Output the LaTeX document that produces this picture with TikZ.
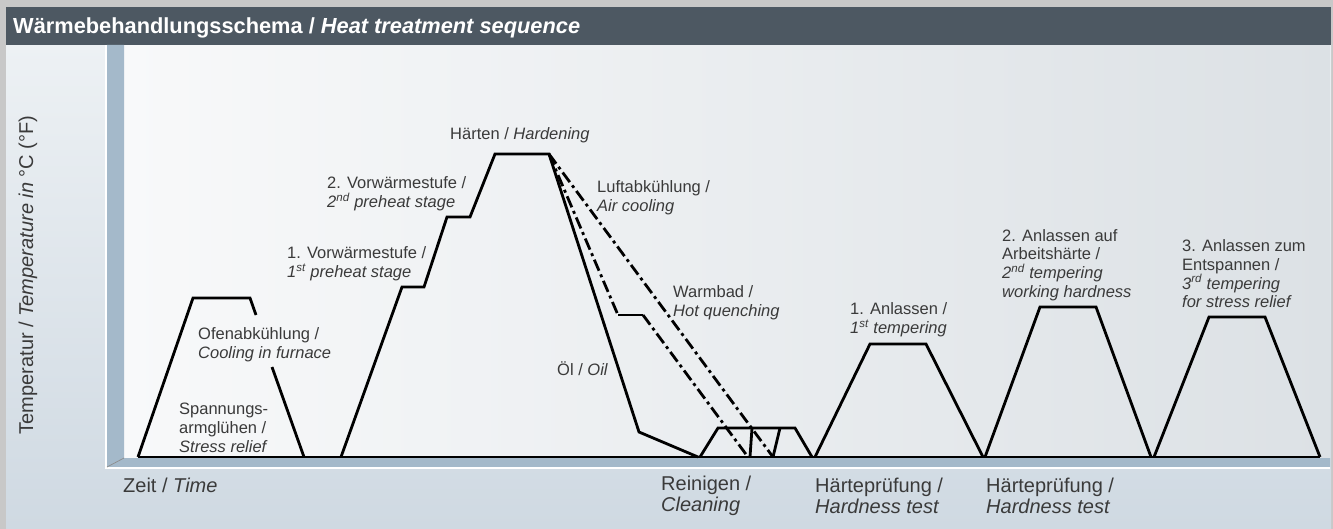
\documentclass[tikz,border=0pt]{standalone}
\usepackage{fontspec}
\setmainfont{Liberation Sans}
\usepackage{tikz}
\usetikzlibrary{positioning}

\definecolor{outergrey}{HTML}{C8C8C8}
\definecolor{headbar}{HTML}{4D5862}
\definecolor{paneltop}{HTML}{EDF1F4}
\definecolor{panelbot}{HTML}{CFD9E2}
\definecolor{wallblue}{HTML}{A4B9CA}
\definecolor{backlight}{HTML}{F8F9FA}
\definecolor{backdark}{HTML}{DCE1E5}
\definecolor{labelgrey}{HTML}{3A3A3A}

\begin{document}
\begin{tikzpicture}[x=1pt,y=-1pt,
    lbl/.style={anchor=west,inner sep=0pt,align=left,text=labelgrey,font=\fontsize{16.5}{18.7}\selectfont},
    axlbl/.style={anchor=west,inner sep=0pt,align=left,text=labelgrey,font=\fontsize{20}{21}\selectfont},
    curve/.style={line width=2.8pt,line join=miter},
    cool/.style={curve,dash pattern=on 12pt off 4pt on 3pt off 4pt}]
    \useasboundingbox (0,0) rectangle (1333,529);
    \fill[outergrey] (0,0) rectangle (1333,529);
    \shade[top color=paneltop,bottom color=panelbot] (6,45) rectangle (1331,529);
    \shade[left color=backlight,right color=backdark] (124,45) rectangle (1330,458);
    \fill[headbar] (6,7) rectangle (1331,45);
    \fill[wallblue] (107,45) -- (124,45) -- (124,458) -- (107,467) -- cycle;
    \fill[wallblue] (124,458) -- (1330,458) -- (1330,467) -- (107,467) -- cycle;
    \draw[white,line width=1.5pt] (106,45) -- (106,468) -- (1330,468);
    \draw[black!45,line width=0.7pt] (124,458) -- (107,467);

    \node[anchor=base west,inner sep=0pt,text=white,font=\bfseries\fontsize{21.8}{24}\selectfont]
        (title) at (13,34) {Wärmebehandlungsschema / \textit{Heat treatment sequence}};
    \node[rotate=90,inner sep=0pt,text=labelgrey,font=\fontsize{20}{21}\selectfont]
        (ylabel) at (28,275) {Temperatur / \textit{Temperature in} °C (°F)};

    \draw[curve] (138,457) -- (1320,457);
    \draw[curve] (138,457) -- (193,298) -- (250,298) -- (256,315);
    \draw[curve] (272,367) -- (304,457);
    \draw[curve] (341,457) -- (402,287) -- (424,287) -- (447,217) -- (470,217)
        -- (495,154) -- (549,154) -- (639,432) -- (698,457);
    \draw[cool] (549,154) -- (618,315);
    \draw[curve] (618,315) -- (643,315);
    \draw[cool] (643,315) -- (748,457);
    \draw[cool] (549,154) -- (773,457);
    \draw[curve] (700,457) -- (718,428) -- (795,428) -- (812,457);
    \draw[curve] (752,428) -- (750,457);
    \draw[curve] (780,428) -- (773,457);
    \draw[curve] (815,457) -- (870,344) -- (926,344) -- (983,457);
    \draw[curve] (985,457) -- (1040,307) -- (1096,307) -- (1151,457);
    \draw[curve] (1154,457) -- (1209,317) -- (1265,317) -- (1320,457);

    \node[lbl] (stress) at (179,428) {Spannungs-\\armglühen /\\\textit{Stress relief}};
    \node[lbl] (furnace) at (198,345) {Ofenabkühlung /\\\textit{Cooling in furnace}};
    \node[lbl] (preone) at (287,264) {1. Vorwärmestufe /\\\textit{1\textsuperscript{st} preheat stage}};
    \node[lbl] (pretwo) at (327,194) {2. Vorwärmestufe /\\\textit{2\textsuperscript{nd} preheat stage}};
    \node[lbl] (harden) at (450,135) {Härten / \textit{Hardening}};
    \node[lbl] (air) at (597,198) {Luftabkühlung /\\\textit{Air cooling}};
    \node[lbl] (hotq) at (673,303) {Warmbad /\\\textit{Hot quenching}};
    \node[lbl] (oil) at (557,369) {Öl / \textit{Oil}};
    \node[lbl] (tempone) at (850,320) {1. Anlassen /\\\textit{1\textsuperscript{st} tempering}};
    \node[lbl] (temptwo) at (1002,265) {2. Anlassen auf\\Arbeitshärte /\\\textit{2\textsuperscript{nd} tempering}\\\textit{working hardness}};
    \node[lbl] (tempthree) at (1182,274) {3. Anlassen zum\\Entspannen /\\\textit{3\textsuperscript{rd} tempering}\\\textit{for stress relief}};

    \node[axlbl] (time) at (123,485) {Zeit / \textit{Time}};
    \node[axlbl] (clean) at (661,496) {Reinigen /\\\textit{Cleaning}};
    \node[axlbl] (testone) at (815,496) {Härteprüfung /\\\textit{Hardness test}};
    \node[axlbl] (testtwo) at (986,496) {Härteprüfung /\\\textit{Hardness test}};
\end{tikzpicture}
\end{document}
